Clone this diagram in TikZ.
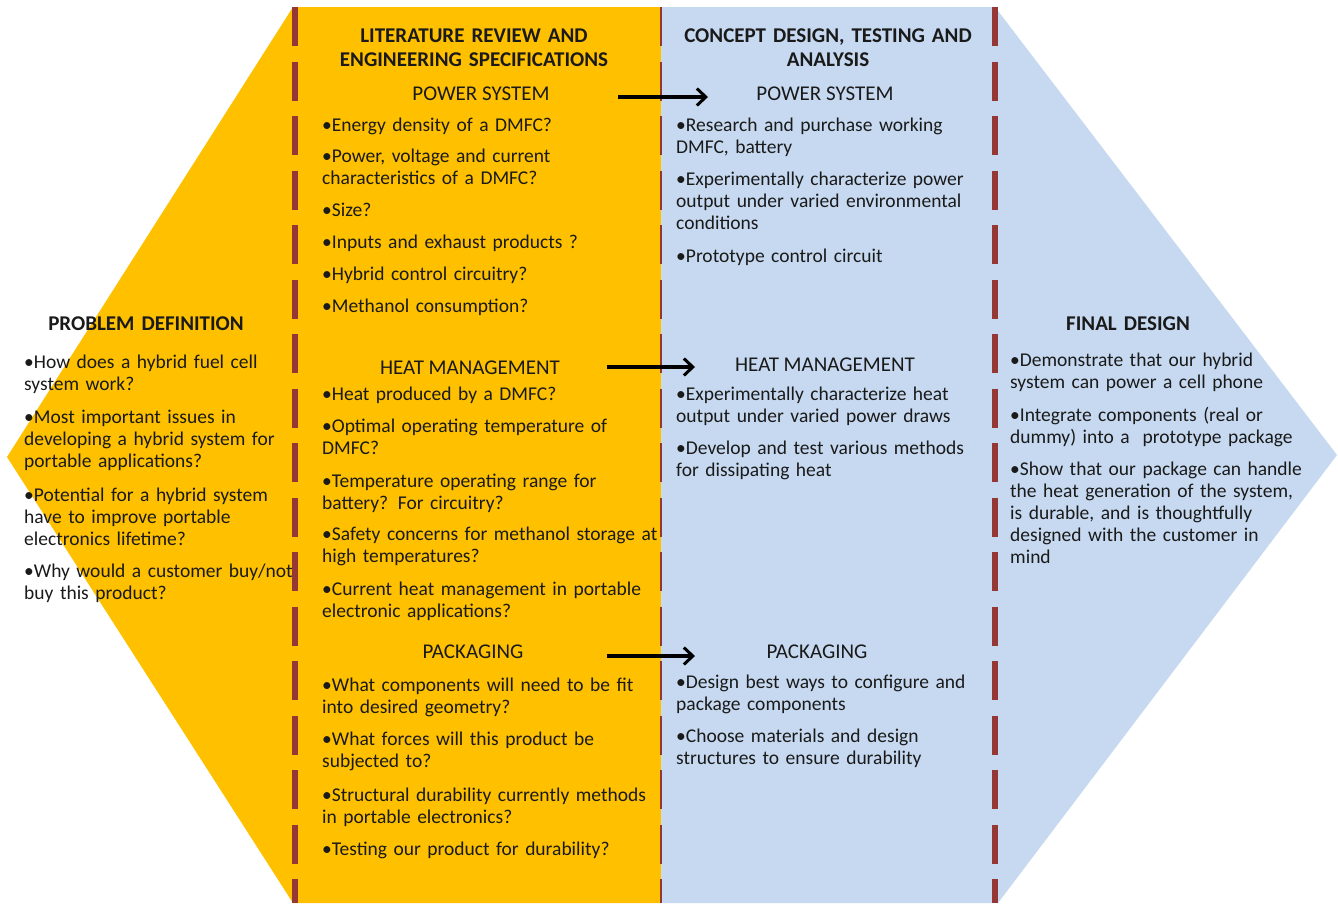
\documentclass[tikz,border=0pt]{standalone}
\usepackage{fontspec}
\setmainfont{Carlito}
\usetikzlibrary{arrows.meta}
\definecolor{orng}{HTML}{FFC000}
\definecolor{lblue}{HTML}{C6D9F0}
\definecolor{dred}{HTML}{953735}
\definecolor{txt}{HTML}{1A1A1A}
\begin{document}
\begin{tikzpicture}[x=1pt,y=-1pt,
  body/.style={font=\fontsize{19.5}{22}\selectfont, text=txt, anchor=base west, inner sep=0pt, text width=#1, align=left},
  body/.default=360pt,
  hdr/.style={font=\fontsize{21}{22}\selectfont, text=txt, anchor=base, inner sep=0pt},
  ttl/.style={font=\bfseries\fontsize{21}{24}\selectfont, text=txt, anchor=base, inner sep=0pt, text width=340pt, align=center},
  dline/.style={dred, line width=6pt, dash pattern=on 39pt off 15.5pt},
  thinline/.style={dred, line width=1.2pt, dash pattern=on 39pt off 15.5pt},
  arr/.style={line width=3.2pt, -{Straight Barb[length=9pt,width=17pt,line width=3pt]}}
]
\useasboundingbox (0,0) rectangle (1338,903);
% shapes
\fill[orng] (293,7) -- (661,7) -- (661,903) -- (293,903) -- (7,457) -- cycle;
\fill[lblue] (661,7) -- (995,7) -- (1337,455) -- (998,903) -- (661,903) -- cycle;
\draw[dline] (295,7) -- (295,903);
\draw[dline] (995,7) -- (995,903);
\draw[thinline] (661,7) -- (661,903);

% column 1
\node[ttl] (pd) at (146,330) {PROBLEM DEFINITION};
\node[body=300pt] (c1a) at (24,368) {•How does a hybrid fuel cell\\system work?};
\node[body=300pt] (c1b) at (24,423) {•Most important issues in\\developing a hybrid system for\\portable applications?};
\node[body=300pt] (c1c) at (24,501) {•Potential for a hybrid system\\have to improve portable\\electronics lifetime?};
\node[body=300pt] (c1d) at (24,577) {•Why would a customer buy/not\\buy this product?};

% column 2
\node[ttl] (lr) at (474,42) {LITERATURE REVIEW AND\\ENGINEERING SPECIFICATIONS};
\node[hdr] (ps1) at (481,100) {POWER SYSTEM};
\node[body] (p1) at (322,131) {•Energy density of a DMFC?};
\node[body] (p2) at (322,162) {•Power, voltage and current\\characteristics of a DMFC?};
\node[body] (p3) at (322,216) {•Size?};
\node[body] (p4) at (322,248) {•Inputs and exhaust products ?};
\node[body] (p5) at (322,280) {•Hybrid control circuitry?};
\node[body] (p6) at (322,312) {•Methanol consumption?};
\node[hdr] (hm1) at (470,374) {HEAT MANAGEMENT};
\node[body] (h1) at (322,400) {•Heat produced by a DMFC?};
\node[body] (h2) at (322,432) {•Optimal operating temperature of\\DMFC?};
\node[body] (h3) at (322,487) {•Temperature operating range for\\battery? For circuitry?};
\node[body] (h4) at (322,540) {•Safety concerns for methanol storage at\\high temperatures?};
\node[body] (h5) at (322,595) {•Current heat management in portable\\electronic applications?};
\node[hdr] (pk1) at (473,658) {PACKAGING};
\node[body] (k1) at (322,691) {•What components will need to be fit\\into desired geometry?};
\node[body] (k2) at (322,745) {•What forces will this product be\\subjected to?};
\node[body] (k3) at (322,801) {•Structural durability currently methods\\in portable electronics?};
\node[body] (k4) at (322,855) {•Testing our product for durability?};

% column 3
\node[ttl] (cd) at (828,42) {CONCEPT DESIGN, TESTING AND\\ANALYSIS};
\node[hdr] (ps2) at (825,100) {POWER SYSTEM};
\node[body=330pt] (q1) at (676,131) {•Research and purchase working\\DMFC, battery};
\node[body=330pt] (q2) at (676,185) {•Experimentally characterize power\\output under varied environmental\\conditions};
\node[body=330pt] (q3) at (676,262) {•Prototype control circuit};
\node[hdr] (hm2) at (825,371) {HEAT MANAGEMENT};
\node[body=330pt] (r1) at (676,400) {•Experimentally characterize heat\\output under varied power draws};
\node[body=330pt] (r2) at (676,454) {•Develop and test various methods\\for dissipating heat};
\node[hdr] (pk2) at (817,658) {PACKAGING};
\node[body=330pt] (s1) at (676,688) {•Design best ways to configure and\\package components};
\node[body=330pt] (s2) at (676,742) {•Choose materials and design\\structures to ensure durability};

% column 4
\node[ttl] (fd) at (1128,330) {FINAL DESIGN};
\node[body=320pt] (f1) at (1010,366) {•Demonstrate that our hybrid\\system can power a cell phone};
\node[body=320pt] (f2) at (1010,421) {•Integrate components (real or\\dummy) into a\ \ prototype package};
\node[body=320pt] (f3) at (1010,475) {•Show that our package can handle\\the heat generation of the system,\\is durable, and is thoughtfully\\designed with the customer in\\mind};

% arrows
\coordinate (a1s) at (618,97);
\coordinate (a1e) at (708,97);
\coordinate (a2s) at (607,367);
\coordinate (a2e) at (695,367);
\coordinate (a3s) at (607,656);
\coordinate (a3e) at (695,656);
\draw[arr] (a1s) -- (a1e);
\draw[arr] (a2s) -- (a2e);
\draw[arr] (a3s) -- (a3e);
\end{tikzpicture}
\end{document}
